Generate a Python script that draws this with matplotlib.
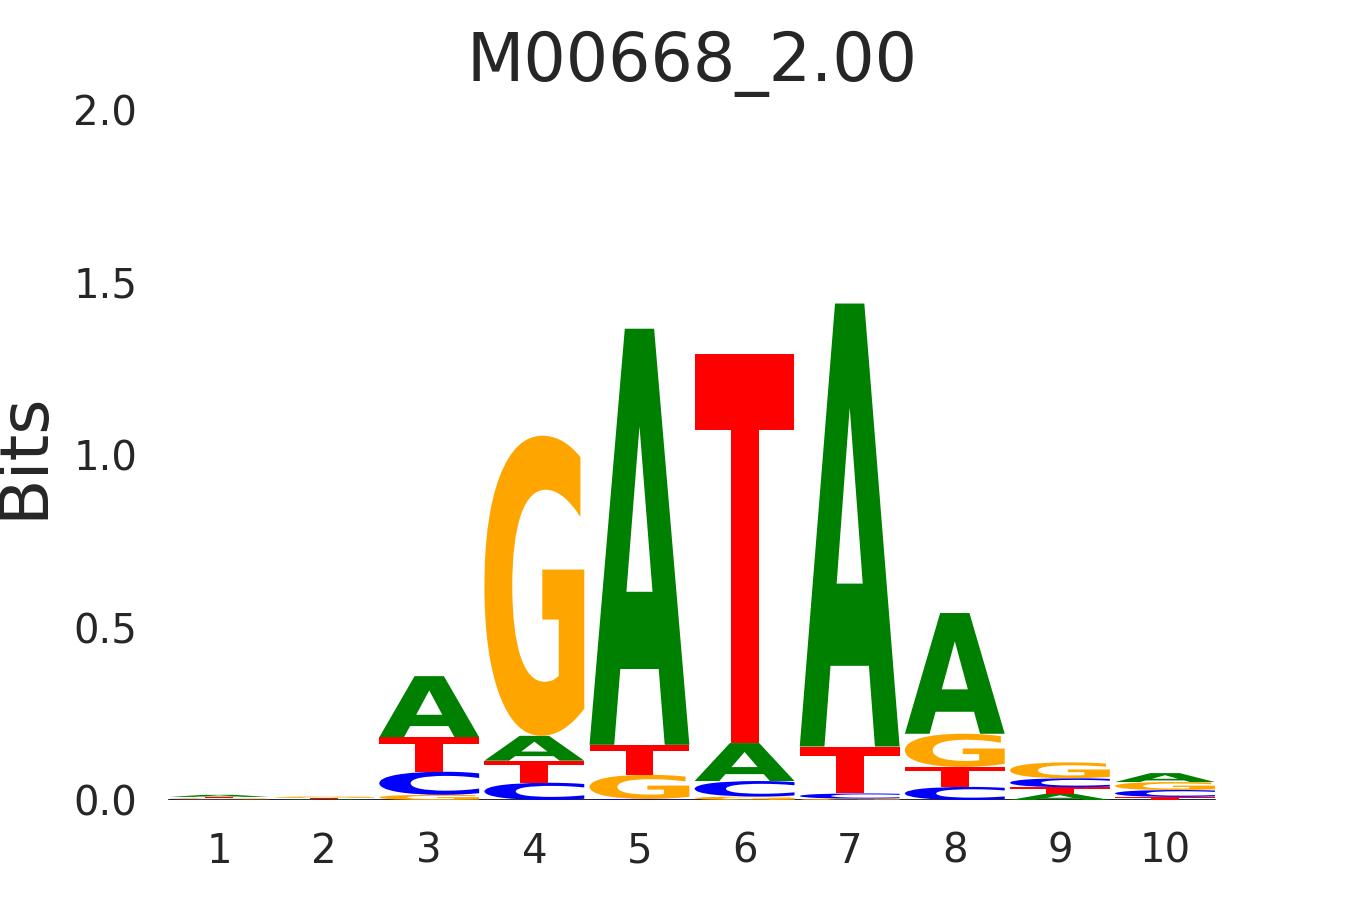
import numpy as np
import matplotlib.pyplot as plt
from matplotlib.textpath import TextPath
from matplotlib.patches import PathPatch
from matplotlib.font_manager import FontProperties
from matplotlib.transforms import Affine2D

positions = [1, 2, 3, 4, 5, 6, 7, 8, 9, 10]
bits_A = [0.006, 0.002, 0.177, 0.072, 1.206, 0.110, 1.284, 0.350, 0.018, 0.026]
bits_C = [0.002, 0.001, 0.067, 0.050, 0.003, 0.045, 0.015, 0.038, 0.026, 0.020]
bits_G = [0.003, 0.004, 0.015, 0.870, 0.070, 0.010, 0.004, 0.096, 0.046, 0.023]
bits_T = [0.004, 0.003, 0.100, 0.064, 0.087, 1.127, 0.136, 0.058, 0.019, 0.009]
colors = {'A': 'green', 'C': 'blue', 'G': 'orange', 'T': 'red'}

fp = FontProperties(family='DejaVu Sans', weight='bold')


def draw_letter(ax, ch, x, floor, height, width=0.95):
    path = TextPath((0, 0), ch, size=1, prop=fp)
    ext = path.get_extents()
    tr = (Affine2D()
          .translate(-ext.x0, -ext.y0)
          .scale(width / ext.width, height / ext.height)
          .translate(x - width / 2, floor))
    ax.add_patch(PathPatch(tr.transform_path(path), facecolor=colors[ch],
                           edgecolor='none', lw=0))


fig = plt.figure(figsize=(13.5, 9), dpi=100)
ax = fig.add_axes([0.1233, 0.1111, 0.7786, 0.7667])

data = {'A': bits_A, 'C': bits_C, 'G': bits_G, 'T': bits_T}
for i, p in enumerate(positions):
    vals = sorted([(data[c][i], c) for c in 'ACGT'])
    floor = 0.0
    for v, c in vals:
        draw_letter(ax, c, p, floor, v)
        floor += v

ax.axhline(0, xmin=0.0025, xmax=0.9975, color='black', lw=1.2, zorder=-1)
ax.set_xlim(0.5, 10.5)
ax.set_ylim(0, 2)
ax.set_xticks(positions)
ax.set_yticks([0, 0.5, 1.0, 1.5, 2.0])
ax.set_yticklabels(['0.0', '0.5', '1.0', '1.5', '2.0'])
for s in ax.spines.values():
    s.set_visible(False)
ax.tick_params(axis='both', length=0, labelsize=29, colors='#262626')
ax.tick_params(axis='y', pad=21)
ax.tick_params(axis='x', pad=23)
ax.set_ylabel('Bits', fontsize=49, color='#262626', labelpad=12)
ax.set_title('M00668_2.00', fontsize=48, color='#262626', pad=21)

fig.savefig('out.png', dpi=100)
